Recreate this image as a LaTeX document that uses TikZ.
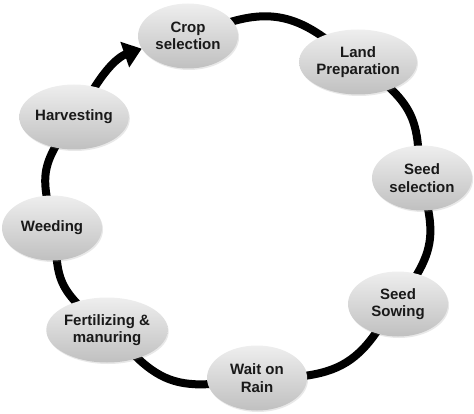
\documentclass[tikz,border=0pt]{standalone}
\usepackage{fontspec}
\setmainfont{Liberation Sans}
\usetikzlibrary{shapes.geometric,arrows.meta,shadows,backgrounds}
\definecolor{nodetop}{RGB}{238,238,238}
\definecolor{nodebot}{RGB}{192,192,192}
\definecolor{txt}{RGB}{25,25,25}
\tikzset{
  stage/.style={ellipse, minimum width=100pt, minimum height=65pt, inner sep=0pt,
    top color=nodetop, bottom color=nodebot, align=center, text=txt,
    font=\bfseries\fontsize{15}{17.5}\selectfont,
    drop shadow={opacity=0.18, shadow xshift=1pt, shadow yshift=-1.5pt}},
  ring/.style={line width=8pt, black, shorten <=-6pt, shorten >=-6pt},
  ringarrow/.style={line width=8pt, black, shorten <=-6pt,
    -{Triangle[width=26pt,length=18pt]}}
}
\begin{document}
\begin{tikzpicture}[x=1pt,y=1pt]
\useasboundingbox (0,0) rectangle (474,413);
\node[stage] (crop) at (188,377) {Crop\\selection};
\node[stage] (land) at (358,351) {Land\\Preparation};
\node[stage] (seed) at (422,235) {Seed\\selection};
\node[stage] (sow)  at (398,109) {Seed\\Sowing};
\node[stage] (rain) at (257,35)  {Wait on\\Rain};
\node[stage] (fert) at (107,83)  {Fertilizing \&\\manuring};
\node[stage] (weed) at (52,185)  {Weeding};
\node[stage] (harv) at (74,296)  {Harvesting};
\begin{scope}[on background layer]
\draw[ring] (crop) to[bend left=27] (land);
\draw[ring] (land) to[bend left=22] (seed);
\draw[ring] (seed) to[bend left=22] (sow);
\draw[ring] (sow)  to[bend left=25] (rain);
\draw[ring] (rain) to[bend left=25] (fert);
\draw[ring] (fert) to[bend left=20] (weed);
\draw[ring] (weed) to[bend left=21] (harv);
\draw[ringarrow] (harv) to[bend left=20] (crop);
\end{scope}
\end{tikzpicture}
\end{document}
